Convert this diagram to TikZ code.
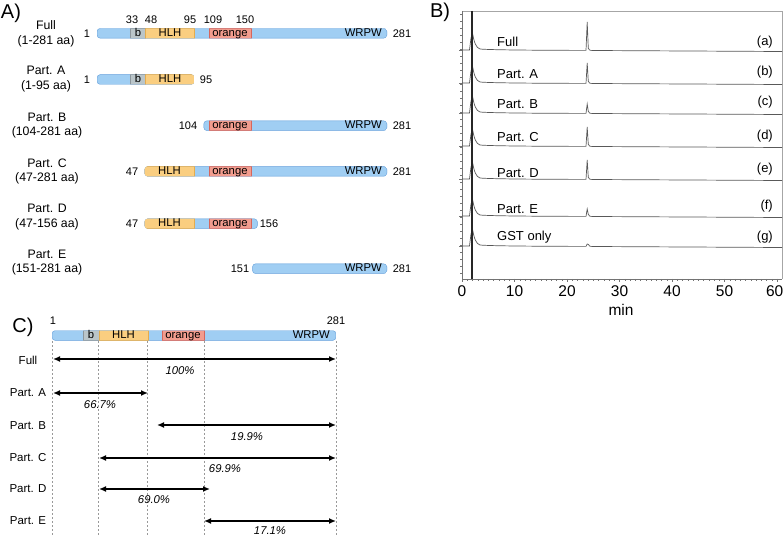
\documentclass[tikz,border=0pt]{standalone}
\usepackage{fontspec}
\setmainfont{Liberation Sans}
\usetikzlibrary{arrows.meta}
\usepackage{xcolor}

\definecolor{wrpwblue}{RGB}{160,206,243}
\definecolor{wrpwedge}{RGB}{115,168,222}
\definecolor{hlhyellow}{RGB}{250,206,128}
\definecolor{hlhedge}{RGB}{228,172,78}
\definecolor{orsalmon}{RGB}{242,156,142}
\definecolor{oredge}{RGB}{214,102,92}
\definecolor{bgray}{RGB}{186,197,201}
\definecolor{bedge}{RGB}{140,150,156}

% one bar of the protein: clip to rounded box, fill blue
\newcommand{\protbar}[3]{%
  \clip[rounded corners=3pt] (#1,#3-5) rectangle (#2,#3+5);
  \filldraw[bluebar,rounded corners=3pt] (#1,#3-5) rectangle (#2,#3+5);}
\newcommand{\domseg}[4]{\filldraw[#1] (#2,#4-5) rectangle (#3,#4+5);}
% one HPLC trace: baseline, peak at 24 min
\newcommand{\chrom}[2]{%
  \draw[trace] (462,#1) -- (469.5,#1) -- (471,#1-12) -- (472.5,#1-17)
    .. controls (474,#1-8) and (476,#1-2) .. (480,#1-1)
    .. controls (490,#1) and (540,#1+0.3) .. (586,#1+0.4)
    -- (587.2,#1-#2) -- (588.3,#1-1.5) .. controls (589.5,#1+0.3) .. (593,#1+0.5)
    -- (782,#1+1.5);}

\begin{document}
\begin{tikzpicture}[x=1pt,y=-1pt,
  every node/.style={inner sep=0pt},
  panel/.style={font=\fontsize{20}{22}\selectfont},
  lbl/.style={font=\fontsize{12.3}{14.5}\selectfont,align=center},
  num/.style={font=\fontsize{11}{12}\selectfont},
  dom/.style={font=\fontsize{11.3}{12}\selectfont,text height=8.1pt,text depth=2.2pt},
  trlbl/.style={font=\fontsize{13}{15}\selectfont},
  tick/.style={font=\fontsize{15.5}{17}\selectfont},
  clbl/.style={font=\fontsize{11.5}{13}\selectfont},
  pct/.style={font=\fontsize{11.3}{13}\selectfont\itshape},
  bluebar/.style={fill=wrpwblue,draw=wrpwedge,line width=0.9pt},
  bseg/.style={fill=bgray,draw=bedge,line width=0.6pt},
  hlhseg/.style={fill=hlhyellow,draw=hlhedge,line width=0.6pt},
  orseg/.style={fill=orsalmon,draw=oredge,line width=0.6pt},
  trace/.style={draw=black!65,line width=0.7pt},
  axisline/.style={draw=black!55,line width=0.6pt},
  guide/.style={draw=black!40,dash pattern=on 2pt off 2pt,line width=0.6pt},
  span/.style={{Latex[length=7pt,width=6pt]}-{Latex[length=7pt,width=6pt]},line width=1.4pt}]
\useasboundingbox (0,0) rectangle (784,537);

% ---------- A) ----------
\node[panel] (pA) at (11,13) {A)};
\node[lbl] (lFull) at (46,34) {Full\\(1-281 aa)};
\node[lbl] (lPartA) at (46,79) {Part. A\\(1-95 aa)};
\node[lbl] (lPartB) at (47,125.5) {Part. B\\(104-281 aa)};
\node[lbl] (lPartC) at (47,171.5) {Part. C\\(47-281 aa)};
\node[lbl] (lPartD) at (47,217) {Part. D\\(47-156 aa)};
\node[lbl] (lPartE) at (47,262.5) {Part. E\\(151-281 aa)};

\node[num] (n33) at (132,20) {33};
\node[num] (n48) at (151,20) {48};
\node[num] (n95) at (190,20) {95};
\node[num] (n109) at (213,20) {109};
\node[num] (n150) at (245,20) {150};

\begin{scope}\protbar{97}{387}{33.3}
  \domseg{bseg}{130}{145.7}{33.3}
  \domseg{hlhseg}{145.7}{194.4}{33.3}
  \domseg{orseg}{209}{251.3}{33.3}
\end{scope}
\node[num] (sFull) at (87,33.3) {1};
\node[num] (eFull) at (402,33.3) {281};
\node[dom] (bFull) at (138,33.6) {b};
\node[dom] (hFull) at (170,33.6) {HLH};
\node[dom] (oFull) at (230,33.6) {orange};
\node[dom,anchor=east] (wFull) at (382,33.6) {WRPW};

\begin{scope}\protbar{97}{194.4}{79.5}
  \domseg{bseg}{130}{145.7}{79.5}
  \domseg{hlhseg}{145.7}{194.4}{79.5}
\end{scope}
\node[num] (sPartA) at (87,79.5) {1};
\node[num] (ePartA) at (206,79.5) {95};
\node[dom] (bPartA) at (138,79.8) {b};
\node[dom] (hPartA) at (170,79.8) {HLH};

\begin{scope}\protbar{203.7}{387}{125.7}
  \domseg{orseg}{209}{251.3}{125.7}
\end{scope}
\node[num] (sPartB) at (188,125.7) {104};
\node[num] (ePartB) at (402,125.7) {281};
\node[dom] (oPartB) at (230,126) {orange};
\node[dom,anchor=east] (wPartB) at (382,126) {WRPW};

\begin{scope}\protbar{144.6}{387}{171.4}
  \domseg{hlhseg}{144.6}{194.4}{171.4}
  \domseg{orseg}{209}{251.3}{171.4}
\end{scope}
\node[num] (sPartC) at (132,171.4) {47};
\node[num] (ePartC) at (402,171.4) {281};
\node[dom] (hPartC) at (169.5,171.7) {HLH};
\node[dom] (oPartC) at (230,171.7) {orange};
\node[dom,anchor=east] (wPartC) at (382,171.7) {WRPW};

\begin{scope}\protbar{144.6}{257.5}{223.7}
  \domseg{hlhseg}{144.6}{194.4}{223.7}
  \domseg{orseg}{209}{251.3}{223.7}
\end{scope}
\node[num] (sPartD) at (132,223.7) {47};
\node[num] (ePartD) at (269,223.7) {156};
\node[dom] (hPartD) at (169.5,224) {HLH};
\node[dom] (oPartD) at (230,224) {orange};

\begin{scope}\protbar{252.4}{387}{268.7}
\end{scope}
\node[num] (sPartE) at (240,268.7) {151};
\node[num] (ePartE) at (402,268.7) {281};
\node[dom,anchor=east] (wPartE) at (382,269) {WRPW};

% ---------- B) ----------
\node[panel] (pB) at (440,12) {B)};
\draw[draw=black!35,line width=0.5pt] (462,11) -- (782,11) -- (782,279);
\draw[axisline] (462,11) -- (462,279) -- (782,279);
\foreach \t in {14,21,...,277} \draw[axisline,line width=0.4pt] (462,\t) -- (460.3,\t);
\foreach \b in {50,83,113,146,179,216,246} \draw[axisline] (462,\b) -- (458.5,\b);
\foreach \m in {0,...,60} \draw[axisline,line width=0.4pt] ({462+5.25*\m},279) -- ({462+5.25*\m},280.8);
\foreach \m in {0,10,...,60} \draw[axisline] ({462+5.25*\m},279) -- ({462+5.25*\m},282);
\foreach \m in {0,10,...,50} \node[tick] (tk\m) at ({462+5.25*\m},291.5) {\m};
\node[tick,anchor=east] (tk60) at (783.5,291.5) {60};
\node[tick] (tmin) at (621,310) {min};

\chrom{50}{28}
\chrom{83}{20}
\chrom{113}{9}
\chrom{146}{19}
\chrom{179}{19}
\chrom{216}{7}
\chrom{246}{2}
\draw[black!85,line width=2.4pt] (472,11) -- (472,279);

\node[trlbl,anchor=west] (tFull) at (497,42) {Full};
\node[trlbl,anchor=west] (tPartA) at (497,74) {Part. A};
\node[trlbl,anchor=west] (tPartB) at (497,104) {Part. B};
\node[trlbl,anchor=west] (tPartC) at (497,137) {Part. C};
\node[trlbl,anchor=west] (tPartD) at (497,173) {Part. D};
\node[trlbl,anchor=west] (tPartE) at (497,209) {Part. E};
\node[trlbl,anchor=west] (tGST) at (497,237) {GST only};
\node[trlbl,anchor=east] (ta) at (773,42) {(a)};
\node[trlbl,anchor=east] (tb) at (773,72) {(b)};
\node[trlbl,anchor=east] (tc) at (773,102) {(c)};
\node[trlbl,anchor=east] (td) at (773,136) {(d)};
\node[trlbl,anchor=east] (te) at (773,169) {(e)};
\node[trlbl,anchor=east] (tf) at (773,206) {(f)};
\node[trlbl,anchor=east] (tg) at (773,237) {(g)};

% ---------- C) ----------
\node[panel] (pC) at (23,327) {C)};
\node[num] (c1) at (53,321) {1};
\node[num] (c281) at (336,321) {281};
\begin{scope}\protbar{52}{336}{335.5}
  \domseg{bseg}{83}{99}{335.5}
  \domseg{hlhseg}{99}{148}{335.5}
  \domseg{orseg}{162}{204}{335.5}
\end{scope}
\node[dom] (cb) at (91,335.8) {b};
\node[dom] (ch) at (123.5,335.8) {HLH};
\node[dom] (co) at (183,335.8) {orange};
\node[dom,anchor=east] (cw) at (330,335.8) {WRPW};

\foreach \g in {52.5,98.5,147.5,204,336} \draw[guide] (\g,341) -- (\g,537);

\coordinate (fullL) at (53,359);  \coordinate (fullR) at (336,359);
\coordinate (aL) at (53,393);     \coordinate (aR) at (148,393);
\coordinate (bL) at (157,425);    \coordinate (bR) at (336,425);
\coordinate (cL) at (99,458);     \coordinate (cR) at (336,458);
\coordinate (dL) at (99,489);     \coordinate (dR) at (210,489);
\coordinate (eL) at (204,521);    \coordinate (eR) at (336,521);
\draw[span] (fullL) -- (fullR);
\draw[span] (aL) -- (aR);
\draw[span] (bL) -- (bR);
\draw[span] (cL) -- (cR);
\draw[span] (dL) -- (dR);
\draw[span] (eL) -- (eR);

\node[clbl] (cFull) at (28,360) {Full};
\node[clbl] (cPartA) at (28,393) {Part. A};
\node[clbl] (cPartB) at (28,426) {Part. B};
\node[clbl] (cPartC) at (28,458) {Part. C};
\node[clbl] (cPartD) at (28,489) {Part. D};
\node[clbl] (cPartE) at (28,521) {Part. E};

\node[pct] (p100) at (180,370.5) {100\%};
\node[pct] (p667) at (100,405) {66.7\%};
\node[pct] (p199) at (247,436.5) {19.9\%};
\node[pct] (p699) at (225,468.5) {69.9\%};
\node[pct] (p690) at (154,499.5) {69.0\%};
\node[pct] (p171) at (270,531) {17.1\%};
\end{tikzpicture}
\end{document}
